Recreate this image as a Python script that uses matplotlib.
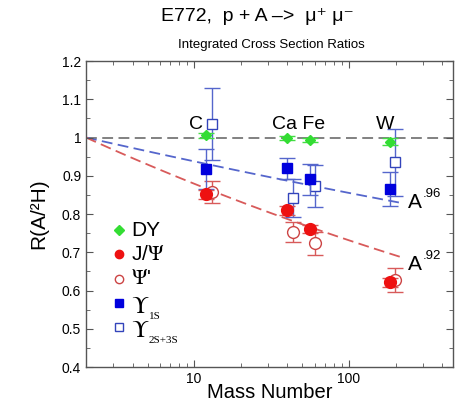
import numpy as np
import matplotlib
matplotlib.use("Agg")
import matplotlib.pyplot as plt
from matplotlib.ticker import NullFormatter, MultipleLocator

plt.rcParams["font.family"] = ["Liberation Sans", "DejaVu Sans"]
plt.rcParams["mathtext.fontset"] = "stix"

# ---- data ----
A_vals = [12, 40, 56, 184]
nuclei = ["C", "Ca", "Fe", "W"]

dy = [1.006, 0.999, 0.993, 0.989]
dy_err = [0.006, 0.006, 0.006, 0.009]

jpsi = [0.852, 0.810, 0.760, 0.622]
jpsi_err = [0.012, 0.012, 0.010, 0.012]

psip = [0.858, 0.754, 0.724, 0.627]
psip_err = [0.028, 0.026, 0.030, 0.031]

ups1 = [0.918, 0.919, 0.891, 0.865]
ups1_err = [0.052, 0.027, 0.040, 0.045]

ups23 = [1.035, 0.842, 0.873, 0.935]
ups23_err = [0.095, 0.050, 0.054, 0.087]

alpha_ups = 0.96
alpha_psi = 0.92
A_fit = [2, 220]

yticks = [0.4, 0.5, 0.6, 0.7, 0.8, 0.9, 1.0, 1.1, 1.2]
ytick_labels = ["0.4", "0.5", "0.6", "0.7", "0.8", "0.9", "1", "1.1", "1.2"]
xticks = [10, 100]
xtick_labels = ["10", "100"]

xlim = (2.0, 470)
ylim = (0.4, 1.2)

# ---- figure ----
fig = plt.figure(figsize=(4.56, 4.03), dpi=100)
ax = fig.add_axes([0.1886, 0.0893, 0.8048, 0.7593])
ax.set_xscale("log")
ax.set_xlim(*xlim)
ax.set_ylim(*ylim)

A = np.array(A_vals, dtype=float)
A_open = A * 1.08

blue_err = "#5566cc"
red_err = "#d85a5a"

# reference lines
ax.axhline(1.0, color="#777777", lw=1.3, ls=(0, (6, 3)), zorder=1)
af = np.geomspace(A_fit[0], A_fit[1], 100)
ax.plot(af, (af / 2.0) ** (alpha_ups - 1), color="#5566cc", lw=1.3, ls=(0, (6, 3)), zorder=1)
ax.plot(af, (af / 2.0) ** (alpha_psi - 1), color="#d85a5a", lw=1.3, ls=(0, (6, 3)), zorder=1)

ekw = dict(ls="none", elinewidth=1.0, capsize=6, capthick=1.0)
ax.errorbar(A_open, ups23, yerr=ups23_err, ecolor=blue_err, marker="s", ms=7,
            mfc="white", mec="#3344bb", mew=1.0, zorder=3, **ekw)
ax.errorbar(A, ups1, yerr=ups1_err, ecolor=blue_err, marker="s", ms=7,
            mfc="#0000dd", mec="#0000dd", zorder=4, **ekw)
ax.errorbar(A_open, psip, yerr=psip_err, ecolor=red_err, marker="o", ms=8.5,
            mfc="white", mec="#cc4444", mew=1.0, zorder=3, **ekw)
ax.errorbar(A, jpsi, yerr=jpsi_err, ecolor=red_err, marker="o", ms=8.5,
            mfc="#ee1111", mec="#ee1111", zorder=4, **ekw)
ax.errorbar(A, dy, yerr=dy_err, ecolor="#44dd44", marker="D", ms=5.5,
            mfc="#33dd33", mec="#33dd33", zorder=5, **ekw)

# nucleus labels
ax.text(11.4, 1.035, "C", fontsize=14, ha="right", va="center", color="black")
ax.text(47, 1.035, "Ca Fe", fontsize=14, ha="center", va="center", color="black")
ax.text(172, 1.035, "W", fontsize=14, ha="center", va="center", color="black")
ax.text(239, 0.831, "A", fontsize=15, ha="left", va="center")
ax.text(300, 0.853, ".96", fontsize=9.5, ha="left", va="center")
ax.text(239, 0.667, "A", fontsize=15, ha="left", va="center")
ax.text(300, 0.689, ".92", fontsize=9.5, ha="left", va="center")

# legend (manual)
leg_items = [
    ("D", "#33dd33", "#33dd33", "DY", None),
    ("o", "#ee1111", "#ee1111", r"J/$\Psi$", None),
    ("o", "white", "#cc4444", r"$\Psi$'", None),
    ("s", "#0000dd", "#0000dd", r"$\Upsilon$", "1S"),
    ("s", "white", "#3344bb", r"$\Upsilon$", "2S+3S"),
]
ly0 = 0.758
for i, (m, fc, ec, lab, sub) in enumerate(leg_items):
    yy = ly0 - i * 0.0635
    ax.plot([3.25], [yy], marker=m, ms=6 if m != "D" else 5, mfc=fc, mec=ec, mew=1.0,
            ls="none")
    if sub is None:
        ax.text(3.9, yy, lab, fontsize=15, va="center", ha="left")
    else:
        ax.text(3.9, yy - 0.025, lab, fontsize=17, va="baseline", ha="left")
        ax.text(5.1, yy - 0.041, sub, fontsize=8, va="baseline", ha="left",
                family="Liberation Serif")

# ticks
ax.set_yticks(yticks)
ax.set_yticklabels(ytick_labels)
ax.yaxis.set_minor_locator(MultipleLocator(0.05))
ax.set_xticks(xticks)
ax.set_xticklabels(xtick_labels)
ax.tick_params(which="both", direction="in", top=True, right=True, labelsize=10,
               color="#555555")
ax.tick_params(which="major", length=5)
ax.tick_params(which="minor", length=3)
ax.xaxis.set_minor_formatter(NullFormatter())
for s in ax.spines.values():
    s.set_color("#555555")
    s.set_linewidth(1.0)

ax.set_xlabel("Mass Number", fontsize=14.5, labelpad=-2)
ax.set_ylabel("R(A/²H)", fontsize=15, labelpad=10)

fig.text(0.565, 0.958, "E772,  p + A –>  μ⁺ μ⁻", fontsize=14,
         ha="center", va="center")
fig.text(0.596, 0.888, "Integrated Cross Section Ratios", fontsize=9.5,
         ha="center", va="center")

fig.savefig("out.png", dpi=100)
